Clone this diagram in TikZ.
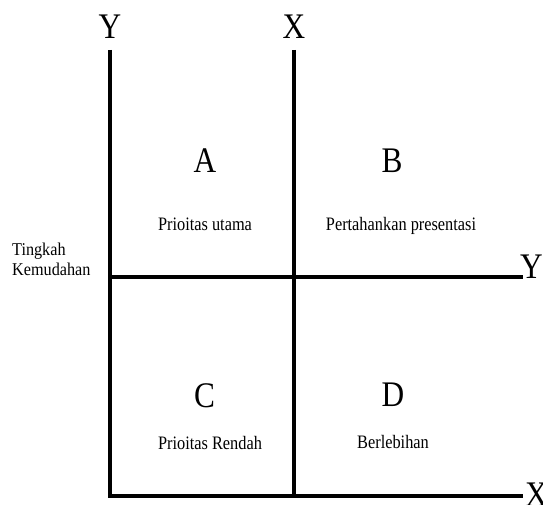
\documentclass[tikz,border=0pt]{standalone}
\usepackage{fontspec}
\setmainfont{Liberation Serif}
\usepackage{graphicx}
\begin{document}
\begin{tikzpicture}[x=1pt,y=-1pt,
  axis/.style={line width=4.8pt,black},
  big/.style={anchor=base,inner sep=0pt,font=\fontsize{36}{40}\selectfont},
  small/.style={anchor=base,inner sep=0pt,font=\fontsize{19}{22}\selectfont},
  side/.style={anchor=base west,inner sep=0pt,font=\fontsize{18}{20}\selectfont}]
\useasboundingbox (0,0) rectangle (543,505);
% axis end points
\coordinate (ytop) at (110,50);
\coordinate (ybot) at (110,496);
\coordinate (xtop) at (294,50);
\coordinate (xbot) at (294,496);
\coordinate (mleft) at (110,277);
\coordinate (mright) at (523,277);
\coordinate (bright) at (523,496);
% axes
\draw[axis] (ytop) -- (ybot) -- (bright);
\draw[axis] (xtop) -- (xbot);
\draw[axis] (mleft) -- (mright);
% axis labels
\node[big] (ly) at (110,39) {\scalebox{0.87}[1]{Y}};
\node[big] (lx) at (294,39) {\scalebox{0.87}[1]{X}};
\node[big,anchor=base west] (ry) at (520,278) {\scalebox{0.87}[1]{Y}};
\node[big,anchor=base west] (bx) at (525,506) {\scalebox{0.87}[1]{X}};
% quadrant letters
\node[big] (qa) at (205,173) {\scalebox{0.87}[1]{A}};
\node[big] (qb) at (392,173) {\scalebox{0.87}[1]{B}};
\node[big] (qc) at (204.5,407) {\scalebox{0.87}[1]{C}};
\node[big] (qd) at (393,406) {\scalebox{0.87}[1]{D}};
% quadrant texts
\node[small] (ta) at (205,230) {\scalebox{0.86}[1]{Prioitas utama}};
\node[small] (tb) at (401,230) {\scalebox{0.86}[1]{Pertahankan presentasi}};
\node[small] (tc) at (210,449) {\scalebox{0.86}[1]{Prioitas Rendah}};
\node[small] (td) at (393,448) {\scalebox{0.86}[1]{Berlebihan}};
% side label
\node[side] (s1) at (12,255) {\scalebox{0.9}[1]{Tingkah}};
\node[side] (s2) at (12,275) {\scalebox{0.9}[1]{Kemudahan}};
\end{tikzpicture}
\end{document}
